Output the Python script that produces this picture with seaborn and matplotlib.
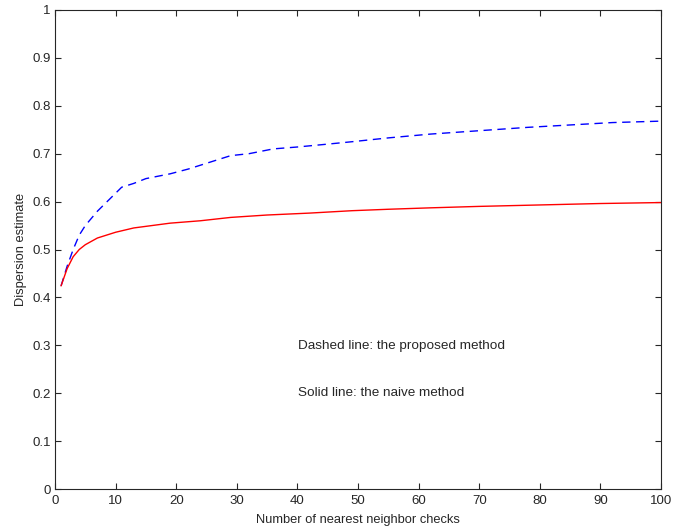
import numpy as np
import pandas as pd
import seaborn as sns
import matplotlib
matplotlib.use("Agg")
import matplotlib.pyplot as plt

# data
checks_proposed = [1, 2, 3, 4, 5, 7, 9, 11, 13, 15, 19, 22, 25, 29, 32, 36,
                   40, 45, 49, 55, 62, 70, 78, 85, 92, 100]
proposed = [0.424, 0.465, 0.50, 0.53, 0.55, 0.58, 0.605, 0.63, 0.638, 0.648,
            0.658, 0.668, 0.68, 0.696, 0.70, 0.71, 0.714, 0.72, 0.725,
            0.733, 0.741, 0.748, 0.755, 0.760, 0.765, 0.768]
checks_naive = [1, 2, 3, 4, 5, 7, 10, 13, 16, 19, 24, 29, 35, 42, 49, 55,
                62, 70, 80, 90, 100]
naive = [0.424, 0.46, 0.485, 0.50, 0.51, 0.524, 0.536, 0.545, 0.55, 0.555,
         0.56, 0.567, 0.572, 0.576, 0.581, 0.584, 0.587, 0.59, 0.593,
         0.596, 0.598]

df = pd.DataFrame({
    "checks": checks_proposed + checks_naive,
    "dispersion": proposed + naive,
    "method": ["proposed"] * len(proposed) + ["naive"] * len(naive),
})

sns.set_style("ticks")
plt.rcParams["font.family"] = ["Liberation Sans", "DejaVu Sans"]

fig = plt.figure(figsize=(6.84, 5.27), dpi=100)
ax = fig.add_axes([55 / 684, 38 / 527, 606 / 684, 479 / 527])

sns.lineplot(data=df, x="checks", y="dispersion", hue="method",
             style="method",
             palette={"proposed": "blue", "naive": "red"},
             dashes={"proposed": (6, 4), "naive": ""},
             linewidth=1, legend=False, ax=ax)

ax.set_xlim(0, 100)
ax.set_ylim(0, 1)
ax.set_xticks(np.arange(0, 101, 10))
ax.set_yticks(np.round(np.arange(0, 1.01, 0.1), 1))
ax.set_yticklabels(["0", "0.1", "0.2", "0.3", "0.4", "0.5", "0.6", "0.7",
                    "0.8", "0.9", "1"])
ax.tick_params(direction="in", top=True, right=True, labelsize=9.5,
               length=4.5, width=0.8, pad=3)
ax.tick_params(axis="x", pad=4)
for s in ax.spines.values():
    s.set_visible(True)
    s.set_linewidth(0.8)
ax.set_xlabel("Number of nearest neighbor checks", fontsize=9.3, labelpad=5)
ax.set_ylabel("Dispersion estimate", fontsize=9.3, labelpad=4)

ax.text(40.1, 0.298, "Dashed line: the proposed method", fontsize=9.7,
        va="center")
ax.text(40.1, 0.2, "Solid line: the naive method", fontsize=9.7,
        va="center")

fig.savefig("out.png", dpi=100)
